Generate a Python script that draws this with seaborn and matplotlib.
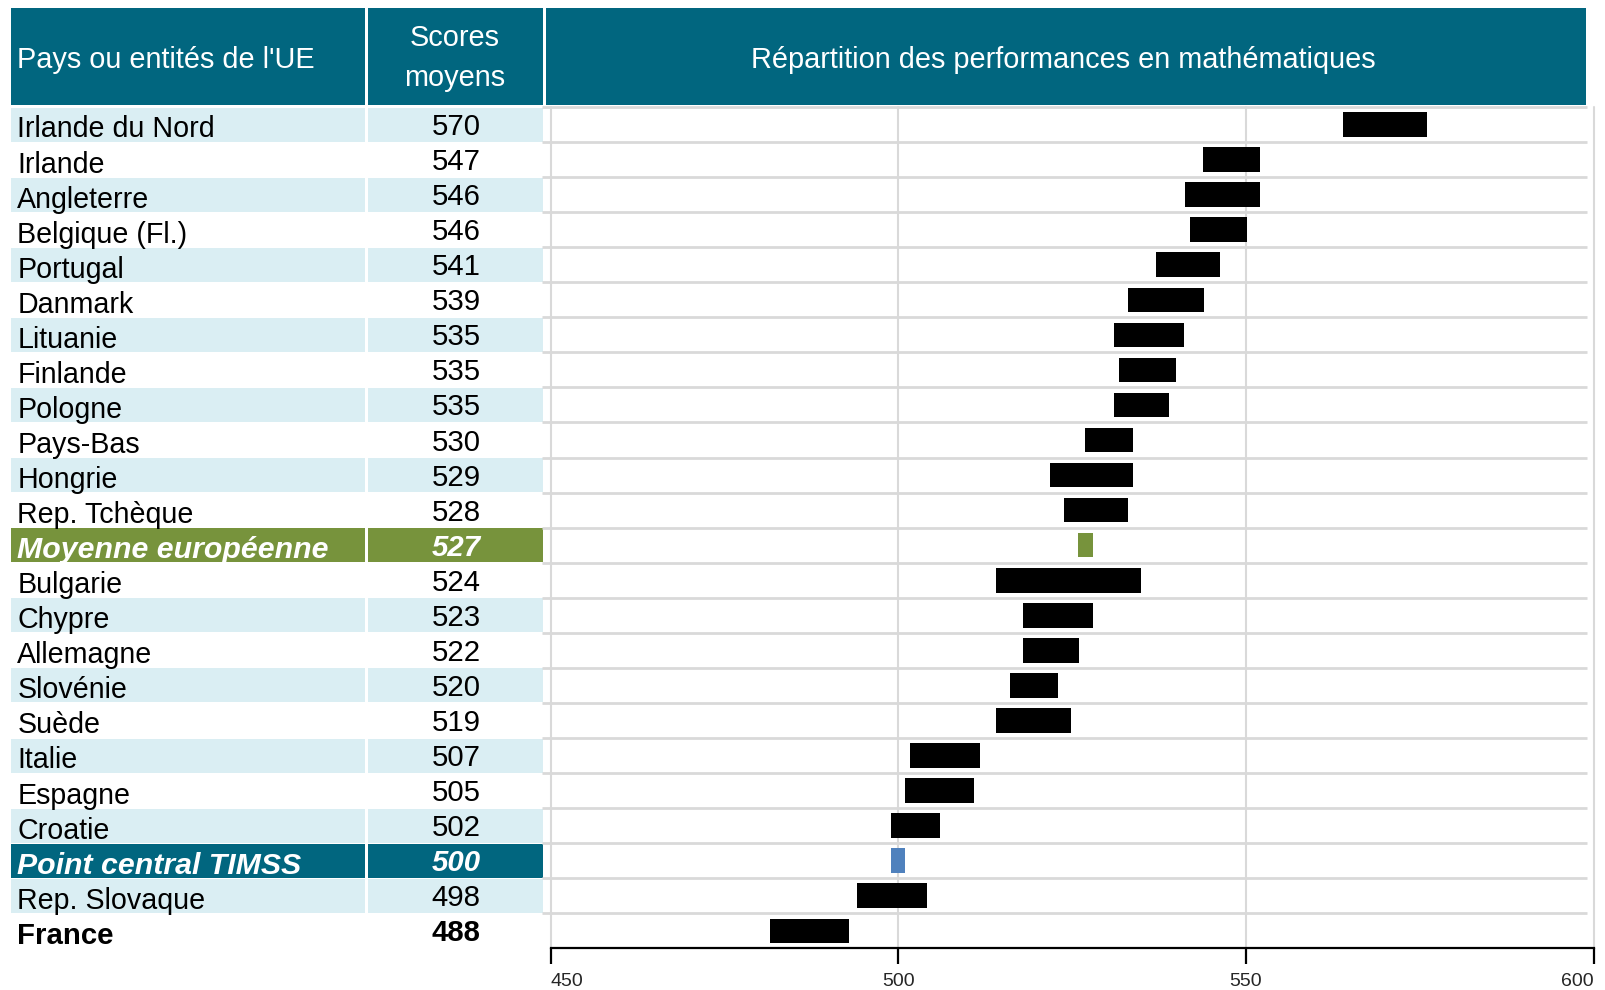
import numpy as np
import pandas as pd
import matplotlib
matplotlib.use("Agg")
import matplotlib.pyplot as plt
import seaborn as sns
from matplotlib.patches import Rectangle
from matplotlib.transforms import blended_transform_factory

# ---------------- data ----------------
countries = ["Irlande du Nord", "Irlande", "Angleterre", "Belgique (Fl.)", "Portugal",
             "Danmark", "Lituanie", "Finlande", "Pologne", "Pays-Bas", "Hongrie",
             "Rep. Tchèque", "Moyenne européenne", "Bulgarie", "Chypre", "Allemagne",
             "Slovénie", "Suède", "Italie", "Espagne", "Croatie", "Point central TIMSS",
             "Rep. Slovaque", "France"]
scores = [570, 547, 546, 546, 541, 539, 535, 535, 535, 530, 529, 528, 527, 524, 523,
          522, 520, 519, 507, 505, 502, 500, 498, 488]
low = [564.0, 543.8, 541.2, 542.0, 537.0, 533.0, 531.0, 531.8, 531.0, 526.8, 521.8,
       523.8, 525.9, 514.1, 517.9, 517.9, 516.0, 514.1, 501.7, 500.9, 499.0, 499.0,
       494.0, 481.6]
high = [576.0, 552.0, 552.0, 550.1, 546.2, 543.9, 541.1, 539.9, 538.9, 533.8, 533.8,
        533.0, 528.0, 534.9, 528.0, 526.0, 523.0, 524.8, 511.7, 510.9, 506.0, 501.0,
        504.1, 492.9]
row_kind = ["normal"] * 12 + ["eu"] + ["normal"] * 8 + ["timss"] + ["normal", "france"]
x_ticks = [450, 500, 550, 600]
header_labels = ["Pays ou entités de l'UE", "Scores", "moyens",
                 "Répartition des performances en mathématiques"]

# ---------------- style ----------------
TEAL = "#01667F"
GREEN = "#77933C"
LIGHT = "#DAEEF3"
BLUE = "#4F81BD"
GRID = "#D9D9D9"

sns.set_style("white")
plt.rcParams["font.family"] = ["Liberation Sans", "DejaVu Sans"]

W, H = 1606, 990
fig = plt.figure(figsize=(W / 100, H / 100), dpi=100)

# background axes in pixel coordinates (table + header)
bg = fig.add_axes([0, 0, 1, 1], zorder=0)
bg.set_xlim(0, W)
bg.set_ylim(H, 0)
bg.axis("off")

# chart axes
ax_left, ax_right = 550.7, 1593.7
ax_top, ax_bot = 107.0, 948.3
ax = fig.add_axes([ax_left / W, (H - ax_bot) / H, (ax_right - ax_left) / W, (ax_bot - ax_top) / H],
                  zorder=1)
ax.set_facecolor("none")

df = pd.DataFrame({"pays": countries, "low": low, "high": high, "kind": row_kind})
df["span"] = df["high"] - df["low"]

sns.barplot(data=df, y="pays", x="span", left=df["low"].to_numpy(), orient="h",
            color="black", saturation=1, errorbar=None, width=0.70, ax=ax,
            linewidth=0, zorder=3)
color_map = {"normal": "black", "france": "black", "eu": GREEN, "timss": BLUE}
for patch, kind in zip(ax.patches, df["kind"]):
    patch.set_facecolor(color_map[kind])
    patch.set_edgecolor(color_map[kind])

n = len(countries)
ax.set_xlim(450, 600)
ax.set_ylim(n - 0.5, -0.5)
ax.set_ylabel("")
ax.set_xlabel("")
ax.set_yticks([])

# grid lines
for xv in x_ticks:
    ax.axvline(xv, color=GRID, lw=1.5, zorder=1, clip_on=False)
ax.hlines(np.arange(n) - 0.5, 448.75, 599.1, color=GRID, lw=2.0, zorder=1, clip_on=False)

# spines / ticks
for s in ["top", "left", "right"]:
    ax.spines[s].set_visible(False)
ax.spines["bottom"].set_color("black")
ax.spines["bottom"].set_linewidth(1.6)
ax.spines["bottom"].set_zorder(4)
ax.set_xticks(x_ticks)
ax.set_xticklabels([str(t) for t in x_ticks])
ax.tick_params(axis="x", direction="out", length=11.5, width=1.6, color="black",
               labelsize=14, pad=6, bottom=True)
labs = ax.get_xticklabels()
labs[0].set_ha("left")
labs[-1].set_ha("right")

# ---------------- table ----------------
tr = blended_transform_factory(bg.transData, ax.transData)
col1 = (11.3, 364.6)
col2 = (367.7, 542.7)
band_fill = {"eu": GREEN, "timss": TEAL}
for i, kind in enumerate(row_kind):
    fill = band_fill.get(kind, LIGHT if i % 2 == 0 else None)
    if fill is not None:
        for c0, c1 in (col1, col2):
            bg.add_patch(Rectangle((c0, i - 0.485), c1 - c0, 0.97, transform=tr,
                                   facecolor=fill, edgecolor="none", zorder=1))
    size_lab, size_num = 20.6, 21.2
    if kind in ("eu", "timss"):
        tc, fw, st = "white", "bold", "italic"
        size_lab = 21.8
    elif kind == "france":
        tc, fw, st = "black", "bold", "normal"
        size_lab = 21.2
    else:
        tc, fw, st = "black", "normal", "normal"
    bg.text(17.4, i + 0.37, countries[i], transform=tr, ha="left", va="baseline",
            fontsize=size_lab, color=tc, fontweight=fw, fontstyle=st, zorder=2)
    bg.text(456, i + 0.30, str(scores[i]), transform=tr, ha="center", va="baseline",
            fontsize=size_num, color=tc, fontweight=fw, fontstyle=st, zorder=2)

# ---------------- header ----------------
hy0, hy1 = 8.2, 105.0
for x0, x1 in (col1, col2, (546.0, 1586.5)):
    bg.add_patch(Rectangle((x0, hy0), x1 - x0, hy1 - hy0, facecolor=TEAL,
                           edgecolor="none", zorder=1))
bg.text(17.4, 68.3, header_labels[0], ha="left", va="baseline", fontsize=20.8, color="white", zorder=2)
bg.text(455, 45.7, header_labels[1], ha="center", va="baseline", fontsize=20.8, color="white", zorder=2)
bg.text(455, 85.5, header_labels[2], ha="center", va="baseline", fontsize=20.8, color="white", zorder=2)
bg.text(1063, 68.3, header_labels[3], ha="center", va="baseline", fontsize=20.8, color="white", zorder=2)

fig.savefig("out.png", dpi=100, facecolor="white")
